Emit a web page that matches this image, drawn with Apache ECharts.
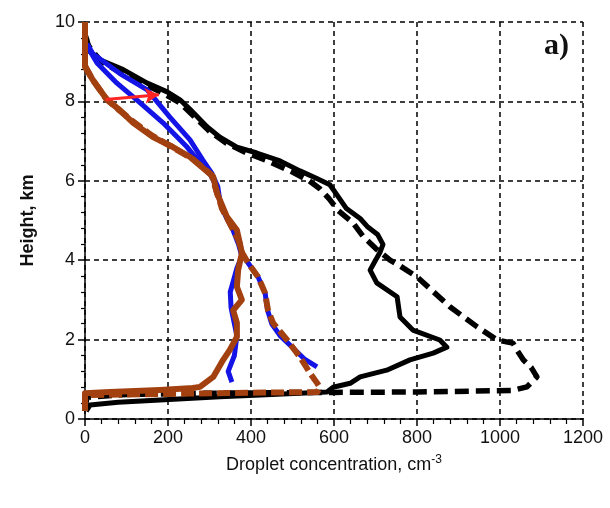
<!DOCTYPE html>
<html>
<head>
<meta charset="utf-8">
<script src="https://cdn.jsdelivr.net/npm/echarts@6/dist/echarts.min.js"></script>
<style>
  html, body { margin: 0; padding: 0; background: #fff; }
  #chart { width: 610px; height: 508px; }
</style>
</head>
<body>
<div id="chart"></div>
<script>
// [concentration cm^-3, height km]
var blackSolid = [[3, 0.2], [12, 0.35], [80, 0.42], [181, 0.48], [325, 0.56], [450, 0.62], [583, 0.68], [598, 0.8],
  [639, 0.9], [663, 1.06], [727, 1.23], [783, 1.49], [839, 1.66], [872, 1.81], [855, 1.99], [790, 2.24], [759, 2.57],
  [752, 3.08], [703, 3.43], [687, 3.75], [700, 4.0], [711, 4.2], [718, 4.4], [705, 4.65], [680, 4.85], [663, 5.05],
  [630, 5.3], [610, 5.6], [590, 5.9], [560, 6.05], [518, 6.25], [470, 6.5], [414, 6.7], [366, 6.85], [325, 7.1],
  [294, 7.36], [253, 7.8], [229, 8.04], [198, 8.24], [150, 8.46], [92, 8.8], [36, 9.05], [12, 9.25], [5, 9.55], [0, 9.7]];

var blackDashed = [[0, 0.3], [5, 0.55], [100, 0.62], [300, 0.65], [600, 0.67], [800, 0.68], [1031, 0.72], [1065, 0.81],
  [1089, 1.06], [1075, 1.3], [1056, 1.49], [1040, 1.75], [1031, 1.91], [993, 1.99], [945, 2.32], [880, 2.82],
  [800, 3.58], [760, 3.85], [735, 4.0], [700, 4.3], [670, 4.6], [645, 4.95], [610, 5.25], [588, 5.55], [566, 5.8],
  [540, 6.0], [500, 6.22], [440, 6.5], [390, 6.7], [340, 6.95], [300, 7.25], [265, 7.6], [230, 7.95], [190, 8.2],
  [140, 8.45], [90, 8.7], [40, 9.0], [15, 9.3], [0, 9.55]];

var blueSolid = [[354, 0.93], [345, 1.2], [360, 1.6], [366, 2.1], [360, 2.4], [352, 2.8], [350, 3.2], [358, 3.5],
  [366, 3.8], [378, 4.1], [370, 4.4], [355, 4.8], [340, 5.1], [325, 5.5], [320, 5.85], [305, 6.2], [284, 6.52],
  [253, 7.03], [205, 7.6], [150, 8.29], [84, 8.7], [19, 9.2], [5, 9.45]];

var blueDashed = [[559, 1.31], [530, 1.5], [500, 1.8], [470, 2.1], [450, 2.4], [440, 2.74], [434, 3.17], [417, 3.58],
  [393, 3.93], [378, 4.18], [372, 4.5], [350, 4.9], [335, 5.2], [322, 5.6], [315, 5.9], [300, 6.2], [277, 6.45],
  [246, 6.85], [188, 7.46], [133, 7.96], [77, 8.46], [29, 8.97], [10, 9.3]];

var brownSolid = [[0, 0.2], [0, 0.65], [60, 0.68], [181, 0.73], [260, 0.78], [277, 0.81], [309, 1.06], [333, 1.49],
  [349, 1.74], [366, 2.07], [366, 2.42], [357, 2.74], [378, 3.0], [366, 3.33], [369, 3.75], [378, 4.18], [373, 4.43],
  [366, 4.76], [342, 5.09], [318, 5.69], [309, 6.1], [253, 6.6], [212, 6.85], [164, 7.1], [116, 7.46], [84, 7.78],
  [53, 8.04], [19, 8.54], [0, 8.87], [0, 10]];

var brownDashed = [[0, 0.3], [0, 0.6], [100, 0.62], [250, 0.64], [400, 0.66], [560, 0.68], [566, 0.8], [559, 0.91],
  [542, 1.16], [518, 1.56], [487, 1.99], [453, 2.42], [441, 2.74], [434, 3.17], [417, 3.58], [393, 3.93], [378, 4.2],
  [370, 4.5], [350, 4.9], [330, 5.3], [315, 5.8], [305, 6.15], [260, 6.55], [210, 6.85], [160, 7.15], [115, 7.5],
  [80, 7.8], [50, 8.08], [18, 8.55], [0, 8.9], [0, 9.8]];

var arrowFrom = [50, 8.05];
var arrowTo = [178, 8.17];

var chart = echarts.init(document.getElementById('chart'));

var brown = '#a3400f';
var blue = '#1414e6';
var txt = { color: '#111', fontFamily: 'Liberation Sans, Arial', fontSize: 18 };

function line(data, color, width, type, z) {
  return {
    type: 'line',
    data: data,
    showSymbol: false,
    symbol: 'none',
    z: z,
    lineStyle: { color: color, width: width, type: type, cap: 'butt', join: 'round' },
    animation: false
  };
}

var option = {
  backgroundColor: '#fff',
  animation: false,
  title: {
    text: 'a)',
    right: 36,
    top: 26,
    textStyle: { fontFamily: 'Liberation Serif, Times New Roman', fontSize: 30, fontWeight: 'bold', color: '#111' }
  },
  grid: { left: 85, right: 27, top: 22, bottom: 89 },
  xAxis: {
    type: 'value',
    min: 0,
    max: 1200,
    interval: 200,
    name: 'Droplet concentration, cm{sup|-3}',
    nameLocation: 'middle',
    nameGap: 35,
    nameTextStyle: {
      color: '#111', fontFamily: 'Liberation Sans, Arial', fontSize: 18,
      rich: { sup: { fontSize: 12, verticalAlign: 'top', padding: [0, 0, 10, 0], color: '#111' } }
    },
    axisLine: { lineStyle: { color: '#000', width: 1.5 } },
    axisTick: { length: 7, lineStyle: { color: '#000', width: 1.5 } },
    minorTick: { show: true, splitNumber: 5, length: 5, lineStyle: { color: '#000', width: 1.2 } },
    axisLabel: Object.assign({ margin: 10, formatter: function (v) { return String(v); } }, txt),
    splitLine: { show: true, lineStyle: { color: '#000', width: 1.5, type: [5, 4] } }
  },
  yAxis: {
    type: 'value',
    min: 0,
    max: 10,
    interval: 2,
    name: 'Height, km',
    nameLocation: 'middle',
    nameGap: 48,
    nameTextStyle: { color: '#111', fontFamily: 'Liberation Sans, Arial', fontSize: 18, fontWeight: 'bold' },
    axisLine: { lineStyle: { color: '#000', width: 1.5 } },
    axisTick: { length: 7, lineStyle: { color: '#000', width: 1.5 } },
    minorTick: { show: true, splitNumber: 5, length: 4, lineStyle: { color: '#000', width: 1.2 } },
    axisLabel: Object.assign({ margin: 10 }, txt),
    splitLine: { show: true, lineStyle: { color: '#000', width: 1.5, type: [5, 4] } }
  },
  series: [
    line(blackSolid, '#000', 5, 'solid', 2),
    line(blackDashed, '#000', 5.5, [14, 7], 2),
    line(blueSolid, blue, 5, 'solid', 3),
    line(blueDashed, blue, 5, 'solid', 3),
    line(brownSolid, brown, 6, 'solid', 4),
    line(brownDashed, brown, 6, [13, 5], 4),
    {
      type: 'line',
      data: [],
      z: 5,
      markLine: {
        silent: true,
        symbol: ['none', 'arrow'],
        symbolSize: [12, 14],
        label: { show: false },
        lineStyle: { color: '#ff2424', width: 3, type: 'solid' },
        data: [[{ coord: arrowFrom }, { coord: arrowTo }]],
        animation: false
      }
    }
  ]
};

chart.setOption(option);
</script>
</body>
</html>
